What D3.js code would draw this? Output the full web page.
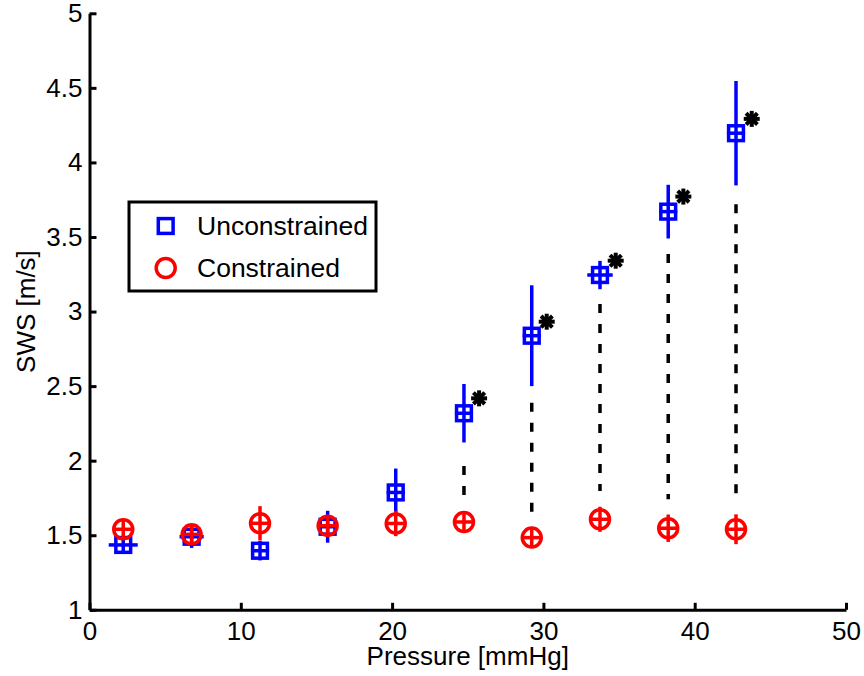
<!DOCTYPE html>
<html>
<head>
<meta charset="utf-8">
<script src="https://cdnjs.cloudflare.com/ajax/libs/d3/7.8.5/d3.min.js"></script>
<style>
  body { margin: 0; background: #fff; }
  text { font-family: "Liberation Sans", Arial, Helvetica, sans-serif; }
</style>
</head>
<body>
<div id="wrapper"></div>
<script>
// pressure [mmHg] of each measurement (shared by both series)
var pressure = [2.23, 6.75, 11.27, 15.74, 20.24, 24.75, 29.23, 33.74, 38.25, 42.73];

// unconstrained SWS [m/s] with vertical / horizontal error
var unconstrained = [1.435, 1.490, 1.396, 1.557, 1.787, 2.318, 2.838, 3.245, 3.670, 4.196];
var unconErr = [0.06, 0.075, 0.065, 0.107, 0.16, 0.196, 0.338, 0.095, 0.18, 0.35];
var unconXErr = [0.96, 0.80, 0.6, 0.62, 0.6, 0.6, 0.6, 0.84, 0.6, 0.6];

// constrained SWS [m/s]
var constrained = [1.540, 1.506, 1.580, 1.564, 1.579, 1.589, 1.484, 1.607, 1.547, 1.540];
var conErr = [0.06, 0.06, 0.115, 0.06, 0.085, 0.06, 0.07, 0.084, 0.092, 0.1];
var conXErr = [0.65, 0.65, 0.65, 0.65, 0.65, 0.65, 0.65, 0.65, 0.65, 0.65];

// significance stars and dashed connectors
var starX = [25.75, 30.22, 34.78, 39.25, 43.77];
var starY = [2.418, 2.932, 3.341, 3.771, 4.292];
var dashX = [24.75, 29.23, 33.74, 38.25, 42.73];
var dashTop = [1.964, 2.389, 3.051, 3.386, 3.720];
var dashBottom = [1.765, 1.647, 1.797, 1.741, 1.741];

var xTicks = [0, 10, 20, 30, 40, 50];
var yTicks = [1, 1.5, 2, 2.5, 3, 3.5, 4, 4.5, 5];
var legendLabels = ['Unconstrained', 'Constrained'];

var W = 864, H = 676;
var blue = '#0000ff', red = '#ff0000';

var x = d3.scaleLinear().domain([0, 50]).range([89.5, 846]);
var y = d3.scaleLinear().domain([1, 5]).range([609.8, 13.3]);

var svg = d3.select('#wrapper').append('svg')
  .attr('width', W).attr('height', H)
  .style('background', '#fff');

// axes (ticks point inward, no box)
var xAxis = d3.axisBottom(x).tickValues(xTicks).tickSizeInner(-7).tickSizeOuter(0).tickPadding(12);
var yAxis = d3.axisLeft(y).tickValues(yTicks).tickSizeInner(-7).tickSizeOuter(0).tickPadding(7)
  .tickFormat(function(d) { return String(d); });

var gx = svg.append('g').attr('transform', 'translate(0,' + y(1) + ')').call(xAxis);
var gy = svg.append('g').attr('transform', 'translate(' + x(0) + ',0)').call(yAxis);

[gx, gy].forEach(function(g) {
  g.select('.domain').attr('stroke', '#000').attr('stroke-width', 3);
  g.selectAll('.tick line').attr('stroke', '#000').attr('stroke-width', 3);
  g.selectAll('.tick text').attr('fill', '#000').style('font-size', '26px');
});

// axis labels
svg.append('text')
  .attr('x', (x(0) + x(50)) / 2).attr('y', 665)
  .attr('text-anchor', 'middle').style('font-size', '26px')
  .text('Pressure [mmHg]');

svg.append('text')
  .attr('transform', 'translate(35,' + (y(1) + y(5)) / 2 + ') rotate(-90)')
  .attr('text-anchor', 'middle').style('font-size', '26px')
  .text('SWS [m/s]');

// dashed connectors
svg.append('g').selectAll('line')
  .data(dashX).enter().append('line')
  .attr('x1', function(d) { return x(d); })
  .attr('x2', function(d) { return x(d); })
  .attr('y1', function(d, i) { return y(dashTop[i]); })
  .attr('y2', function(d, i) { return y(dashBottom[i]); })
  .attr('stroke', '#000').attr('stroke-width', 3.5)
  .attr('stroke-dasharray', '9,11');

function errSeries(vals, yerr, xerr, color, marker) {
  var g = svg.append('g');
  var pts = g.selectAll('g').data(vals).enter().append('g');
  pts.append('line')
    .attr('x1', function(d, i) { return x(pressure[i]); })
    .attr('x2', function(d, i) { return x(pressure[i]); })
    .attr('y1', function(d, i) { return y(d - yerr[i]); })
    .attr('y2', function(d, i) { return y(d + yerr[i]); })
    .attr('stroke', color).attr('stroke-width', 3.5);
  pts.append('line')
    .attr('x1', function(d, i) { return x(pressure[i] - xerr[i]); })
    .attr('x2', function(d, i) { return x(pressure[i] + xerr[i]); })
    .attr('y1', function(d) { return y(d); })
    .attr('y2', function(d) { return y(d); })
    .attr('stroke', color).attr('stroke-width', 3.5);
  if (marker === 'square') {
    pts.append('rect')
      .attr('x', function(d, i) { return x(pressure[i]) - 7.4; })
      .attr('y', function(d) { return y(d) - 7.4; })
      .attr('width', 14.8).attr('height', 14.8)
      .attr('fill', 'none').attr('stroke', color).attr('stroke-width', 3.5);
  } else {
    pts.append('circle')
      .attr('cx', function(d, i) { return x(pressure[i]); })
      .attr('cy', function(d) { return y(d); })
      .attr('r', 9.5)
      .attr('fill', 'none').attr('stroke', color).attr('stroke-width', 3.5);
  }
}

errSeries(unconstrained, unconErr, unconXErr, blue, 'square');
errSeries(constrained, conErr, conXErr, red, 'circle');

// asterisks
var stars = svg.append('g').selectAll('g').data(starX).enter().append('g')
  .attr('transform', function(d, i) { return 'translate(' + x(d) + ',' + y(starY[i]) + ')'; });
[0, 45, 90, 135].forEach(function(a) {
  stars.append('line')
    .attr('x1', -8).attr('x2', 8).attr('y1', 0).attr('y2', 0)
    .attr('transform', 'rotate(' + a + ')')
    .attr('stroke', '#000').attr('stroke-width', 4);
});
stars.append('circle').attr('r', 4.5).attr('fill', '#000');

// legend
var leg = svg.append('g');
leg.append('rect')
  .attr('x', 129).attr('y', 202).attr('width', 247).attr('height', 89)
  .attr('fill', '#fff').attr('stroke', '#000').attr('stroke-width', 3);
leg.append('rect')
  .attr('x', 165.7 - 7.4).attr('y', 226 - 7.4).attr('width', 14.8).attr('height', 14.8)
  .attr('fill', 'none').attr('stroke', blue).attr('stroke-width', 3.5);
leg.append('circle')
  .attr('cx', 165.7).attr('cy', 268).attr('r', 9.5)
  .attr('fill', 'none').attr('stroke', red).attr('stroke-width', 3.5);
leg.selectAll('text').data(legendLabels).enter().append('text')
  .attr('x', 197).attr('y', function(d, i) { return 226 + i * 42; })
  .attr('dy', '0.35em').style('font-size', '26.5px')
  .text(function(d) { return d; });
</script>
</body>
</html>
